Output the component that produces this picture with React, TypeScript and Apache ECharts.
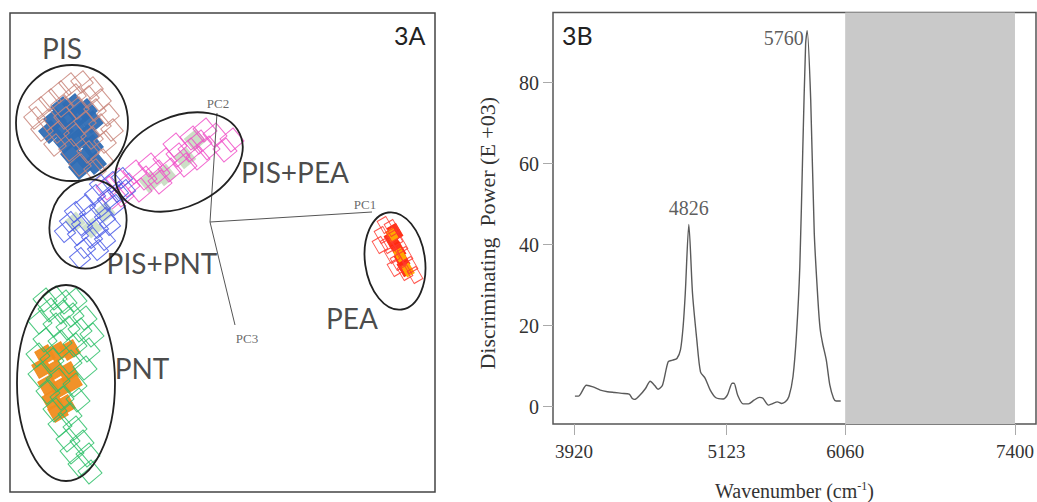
import React, { useEffect, useRef } from 'react';
import * as echarts from 'echarts';

// ---------- Panel 3B: discriminating power spectrum ----------
const spectrumWn = [3927, 3955, 4018, 4070, 4127, 4184, 4241, 4298, 4355, 4378, 4398, 4441, 4484, 4521, 4555, 4583, 4618, 4663, 4698, 4732, 4760, 4781, 4798, 4826, 4855, 4889, 4918, 4955, 4995, 5040, 5097, 5131, 5168, 5183, 5211, 5254, 5297, 5340, 5383, 5411, 5454, 5483, 5525, 5559, 5588, 5616, 5648, 5676, 5702, 5725, 5748, 5760, 5788, 5816, 5845, 5862, 5882, 5911, 5939, 5968, 5988, 6025];
const spectrumDp = [2.6, 2.6, 5.3, 4.9, 4.1, 3.7, 3.5, 3.3, 3.1, 2.1, 1.8, 2.9, 4.5, 6.3, 5.3, 4.3, 5.3, 11.1, 11.5, 11.9, 14, 19.8, 28, 45, 28, 16.5, 8.6, 7, 4.1, 2.2, 1.9, 2.9, 5.8, 5.8, 2.9, 0.7, 0.7, 1.6, 2.3, 2.1, 0.4, 0.7, 1.2, 0.8, 1.2, 2.5, 7.4, 18, 34.6, 63, 89.7, 92.8, 75.7, 42.8, 26.3, 19.3, 15.6, 11.5, 5.3, 2.1, 1.4, 1.4];
const xTickValues = [3920, 5123, 6060, 7400];
const yTickValues = [0, 20, 40, 60, 80];
const excludedRange = [6060, 7400];
const peakWn = [4826, 5760];
const peakDp = [45, 92.8];

// ---------- Panel 3A: PCA scores (arbitrary score units) ----------
const pisHollow = [[-1.40, 1.38], [-1.28, 1.40], [-1.18, 1.34], [-1.50, 1.30], [-1.35, 1.27], [-1.22, 1.25], [-1.10, 1.22], [-1.60, 1.22], [-1.70, 1.14], [-1.48, 1.16], [-1.32, 1.14], [-1.15, 1.12], [-1.02, 1.07], [-1.75, 1.04], [-1.62, 1.02], [-1.45, 1.04], [-1.25, 1.00], [-1.10, 0.97], [-0.98, 0.92], [-1.68, 0.92], [-1.52, 0.90], [-1.35, 0.87], [-1.18, 0.84], [-1.05, 0.80], [-1.55, 0.77], [-1.40, 0.72], [-1.22, 0.70], [-1.08, 0.62], [-1.30, 0.57], [-1.15, 0.52]];
const pisFilled = [[-1.48, 1.14], [-1.36, 1.17], [-1.24, 1.12], [-1.55, 1.02], [-1.42, 1.04], [-1.30, 1.07], [-1.18, 1.00], [-1.60, 0.90], [-1.48, 0.92], [-1.35, 0.94], [-1.22, 0.87], [-1.45, 0.80], [-1.32, 0.82], [-1.18, 0.76], [-1.38, 0.67], [-1.25, 0.64], [-1.30, 0.54], [-1.15, 0.59]];
const pisPeaHollow = [[-1.02, 0.34], [-0.92, 0.42], [-0.82, 0.37], [-0.75, 0.50], [-0.65, 0.44], [-0.60, 0.57], [-0.52, 0.50], [-0.45, 0.62], [-0.40, 0.52], [-0.32, 0.67], [-0.25, 0.57], [-0.20, 0.72], [-0.12, 0.64], [-0.10, 0.80], [-0.02, 0.74], [0.05, 0.87], [0.15, 0.72], [0.22, 0.82], [-0.70, 0.32], [-0.50, 0.40], [-0.88, 0.27], [-0.98, 0.24], [-0.35, 0.77], [-0.18, 0.84], [-0.05, 0.92]];
const pisPeaFilled = [[-0.15, 0.82], [-0.45, 0.47], [-0.60, 0.40], [-0.25, 0.64]];
const pisPntHollow = [[-1.10, 0.37], [-0.98, 0.40], [-0.92, 0.30], [-1.15, 0.27], [-1.02, 0.22], [-1.25, 0.17], [-1.10, 0.14], [-0.95, 0.17], [-1.35, 0.10], [-1.20, 0.07], [-1.05, 0.04], [-1.40, 0.00], [-1.28, -0.03], [-1.12, -0.06], [-1.00, -0.03], [-1.45, -0.10], [-1.32, -0.13], [-1.18, -0.16], [-1.05, -0.18], [-1.25, -0.26], [-1.12, -0.28], [-1.30, -0.36], [-0.88, 0.44], [-0.85, 0.32]];
const pisPntFilled = [[-1.35, 0.00], [-1.18, -0.06], [-1.05, 0.10]];
const pntHollow = [[-1.65, -0.78], [-1.55, -0.76], [-1.45, -0.80], [-1.35, -0.78], [-1.60, -0.88], [-1.48, -0.90], [-1.38, -0.93], [-1.25, -0.96], [-1.70, -1.00], [-1.55, -1.03], [-1.42, -1.06], [-1.30, -1.08], [-1.18, -1.13], [-1.65, -1.18], [-1.50, -1.20], [-1.35, -1.23], [-1.22, -1.28], [-1.72, -1.33], [-1.58, -1.38], [-1.40, -1.40], [-1.25, -1.46], [-1.70, -1.53], [-1.52, -1.58], [-1.35, -1.63], [-1.62, -1.70], [-1.48, -1.76], [-1.32, -1.78], [-1.55, -1.88], [-1.40, -1.93], [-1.50, -2.03], [-1.35, -2.06], [-1.42, -2.18], [-1.28, -2.20], [-1.38, -2.30], [-1.22, -2.33], [-1.30, -2.43], [-1.20, -2.50]];
const pntFilled = [[-1.65, -1.33], [-1.52, -1.30], [-1.40, -1.28], [-1.68, -1.46], [-1.55, -1.48], [-1.42, -1.50], [-1.62, -1.63], [-1.50, -1.66], [-1.38, -1.60], [-1.58, -1.78], [-1.45, -1.83], [-1.52, -1.90]];
const peaHollow = [[1.75, -0.03], [1.82, -0.06], [1.72, -0.13], [1.85, -0.16], [1.78, -0.23], [1.90, -0.23], [1.82, -0.33], [1.95, -0.33], [1.88, -0.40], [2.00, -0.43], [1.95, -0.50], [2.05, -0.53], [1.70, -0.23], [1.85, -0.46]];
const peaFilledRed = [[1.82, -0.18], [1.88, -0.28], [1.92, -0.38], [1.85, -0.10], [1.95, -0.46]];
const peaFilledYellow = [[1.82, -0.13], [1.90, -0.33], [1.98, -0.48]];

// group ellipses: [centerX, centerY, radiusX, radiusY, rotationDeg]
const groupEllipses = [
  [-1.38, 0.99, 0.56, 0.58, 0],
  [-0.31, 0.60, 0.67, 0.45, 25],
  [-1.22, -0.02, 0.38, 0.45, -15],
  [-1.44, -1.61, 0.49, 0.98, 0],
  [1.85, -0.39, 0.30, 0.49, 8],
];
const groupNames = ['PIS', 'PIS+PEA', 'PIS+PNT', 'PNT', 'PEA'];
const groupLabelXY = [[-1.48, 1.74], [0.85, 0.50], [-0.48, -0.41], [-0.68, -1.46], [1.42, -0.96]];

const pcNames = ['PC1', 'PC2', 'PC3'];
const pcTips = [[1.62, 0.10], [0.07, 1.09], [0.25, -1.03]];
const pcLabelXY = [[1.55, 0.18], [0.08, 1.19], [0.37, -1.16]];

const SERIF = 'Liberation Serif';
const SANS = 'Lato';

function hollow(data: number[][], color: string, size: any, rot: number) {
  return {
    type: 'scatter', xAxisIndex: 0, yAxisIndex: 0, data,
    symbol: 'rect', symbolSize: size, symbolRotate: rot,
    itemStyle: { color: 'rgba(255,255,255,0)', borderColor: color, borderWidth: 1, opacity: 0.85 },
    silent: true,
  };
}
function filled(data: number[][], color: string, size: any, rot: number) {
  return {
    type: 'scatter', xAxisIndex: 0, yAxisIndex: 0, data,
    symbol: 'rect', symbolSize: size, symbolRotate: rot,
    itemStyle: { color, borderColor: color, borderWidth: 1, opacity: 0.95 },
    silent: true,
  };
}

export default function App() {
  const ref = useRef<HTMLDivElement>(null);
  useEffect(() => {
    if (!ref.current) return;
    const chart = echarts.init(ref.current, undefined, { renderer: 'svg' });

    const pcSeries = pcTips.map((tip) => ({
      type: 'line', xAxisIndex: 0, yAxisIndex: 0,
      data: [[0, 0], tip], symbol: 'none',
      lineStyle: { color: '#555', width: 1 }, silent: true, z: 3,
    }));

    const option: any = {
      animation: false,
      backgroundColor: '#fff',
      grid: [
        { left: 10, top: 13, width: 425, height: 479, outerBoundsMode: 'none', containLabel: false, show: true, borderColor: '#444', borderWidth: 1.5, backgroundColor: 'rgba(0,0,0,0)' },
        { left: 553, top: 12.5, right: 1, bottom: 78, outerBoundsMode: 'none', containLabel: false, show: true, borderColor: '#555', borderWidth: 1.5, backgroundColor: 'rgba(0,0,0,0)' },
      ],
      xAxis: [
        { gridIndex: 0, type: 'value', min: -2.0, max: 2.25, show: false },
        {
          gridIndex: 1, type: 'value', min: 3754, max: 7566,
          axisLine: { show: false, onZero: false }, splitLine: { show: false },
          axisTick: { show: true, customValues: xTickValues, length: 11, lineStyle: { color: '#aaa', width: 1 } },
          axisLabel: { customValues: xTickValues, formatter: (v: number) => String(v), margin: 18, fontSize: 19, fontFamily: SERIF, color: '#333' },
          name: 'Wavenumber (cm{sup|-1})', nameLocation: 'middle', nameGap: 56, nameMoveOverlap: false,
          nameTextStyle: { fontSize: 20, fontFamily: SERIF, color: '#333', rich: { sup: { fontSize: 12, fontFamily: SERIF, color: '#333', verticalAlign: 'top', padding: [0, 0, 10, 0] } } },
        },
      ],
      yAxis: [
        { gridIndex: 0, type: 'value', min: -2.7, max: 2.09, show: false },
        {
          gridIndex: 1, type: 'value', min: -4.27, max: 97.3,
          axisLine: { show: false, onZero: false }, splitLine: { show: false },
          axisTick: { show: true, customValues: yTickValues, length: 10, lineStyle: { color: '#aaa', width: 1 } },
          axisLabel: { customValues: yTickValues, formatter: (v: number) => String(v), margin: 14, fontSize: 20, fontFamily: SERIF, color: '#333' },
          name: 'Discriminating  Power (E +03)', nameLocation: 'middle', nameGap: 55,
          nameTextStyle: { fontSize: 22, fontFamily: SERIF, color: '#333', padding: [0, 30, 0, 0] },
        },
      ],
      graphic: [
        { type: 'text', left: 394, top: 22, style: { text: '3A', font: `25px ${SANS}`, fill: '#222' } },
        { type: 'text', left: 562, top: 22, style: { text: '3B', font: `25px ${SANS}`, fill: '#222' } },
      ],
      series: [
        // Panel 3A
        filled(pisFilled, '#2f6db4', 16, 40),
        hollow(pisHollow, '#c8857a', 16, 40),
        filled(pisPeaFilled, '#c9dcc3', 15, 40),
        hollow(pisPeaHollow, '#f050c8', 17, 40),
        filled(pisPntFilled, '#cfe0c9', 14, 40),
        hollow(pisPntHollow, '#4a5ae6', 15, 40),
        filled(pntFilled, '#f08c1e', 15, 30),
        hollow(pntHollow, '#2dbf68', 17, 40),
        filled(peaFilledRed, '#ff2a10', [10, 14], 30),
        filled(peaFilledYellow, '#ffae00', [8, 11], 30),
        hollow(peaHollow, '#ff3a30', [10, 14], 30),
        ...pcSeries,
        {
          type: 'custom', xAxisIndex: 0, yAxisIndex: 0, data: groupEllipses,
          encode: { x: 0, y: 1 }, silent: true, z: 4, clip: false,
          renderItem: (params: any, api: any) => {
            const c = api.coord([api.value(0), api.value(1)]);
            const s = api.size([api.value(2), api.value(3)]);
            return {
              type: 'ellipse', x: c[0], y: c[1], rotation: (api.value(4) * Math.PI) / 180,
              shape: { cx: 0, cy: 0, rx: s[0], ry: s[1] },
              style: { fill: 'none', stroke: '#222', lineWidth: 1.8 },
            };
          },
        },
        {
          type: 'scatter', xAxisIndex: 0, yAxisIndex: 0, silent: true, z: 5,
          data: groupNames.map((n, i) => ({ name: n, value: groupLabelXY[i] })),
          symbolSize: 1, itemStyle: { color: 'rgba(0,0,0,0)' },
          label: { show: true, position: 'inside', formatter: '{b}', fontFamily: SANS, fontSize: 28, color: '#1a1a1a' },
        },
        {
          type: 'scatter', xAxisIndex: 0, yAxisIndex: 0, silent: true, z: 5,
          data: pcNames.map((n, i) => ({ name: n, value: pcLabelXY[i] })),
          symbolSize: 1, itemStyle: { color: 'rgba(0,0,0,0)' },
          label: { show: true, position: 'inside', formatter: '{b}', fontFamily: SERIF, fontSize: 13, color: '#444' },
        },
        // Panel 3B
        {
          type: 'line', xAxisIndex: 1, yAxisIndex: 1,
          data: spectrumWn.map((w, i) => [w, spectrumDp[i]]),
          symbol: 'none', smooth: 0.25,
          lineStyle: { color: '#5a5a5a', width: 1.4 }, silent: true, z: 3,
          markArea: {
            silent: true,
            itemStyle: { color: '#c9c9c9' },
            data: [[{ xAxis: excludedRange[0] }, { xAxis: excludedRange[1] }]],
          },
        },
        {
          type: 'scatter', xAxisIndex: 1, yAxisIndex: 1, silent: true, z: 5,
          data: peakWn.map((w, i) => ({
            value: [w, peakDp[i]],
            label: i === 0 ? { position: 'top', distance: 6 } : { position: 'left', distance: 3, offset: [0, 7] },
          })),
          symbolSize: 1, itemStyle: { color: 'rgba(0,0,0,0)' },
          label: { show: true, formatter: (p: any) => String(p.value[0]), fontFamily: SERIF, fontSize: 20, color: '#333' },
        },
      ],
    };
    chart.setOption(option);
    return () => chart.dispose();
  }, []);
  return <div ref={ref} style={{ position: 'fixed', left: 0, top: 0, width: 1037, height: 502 }} />;
}
